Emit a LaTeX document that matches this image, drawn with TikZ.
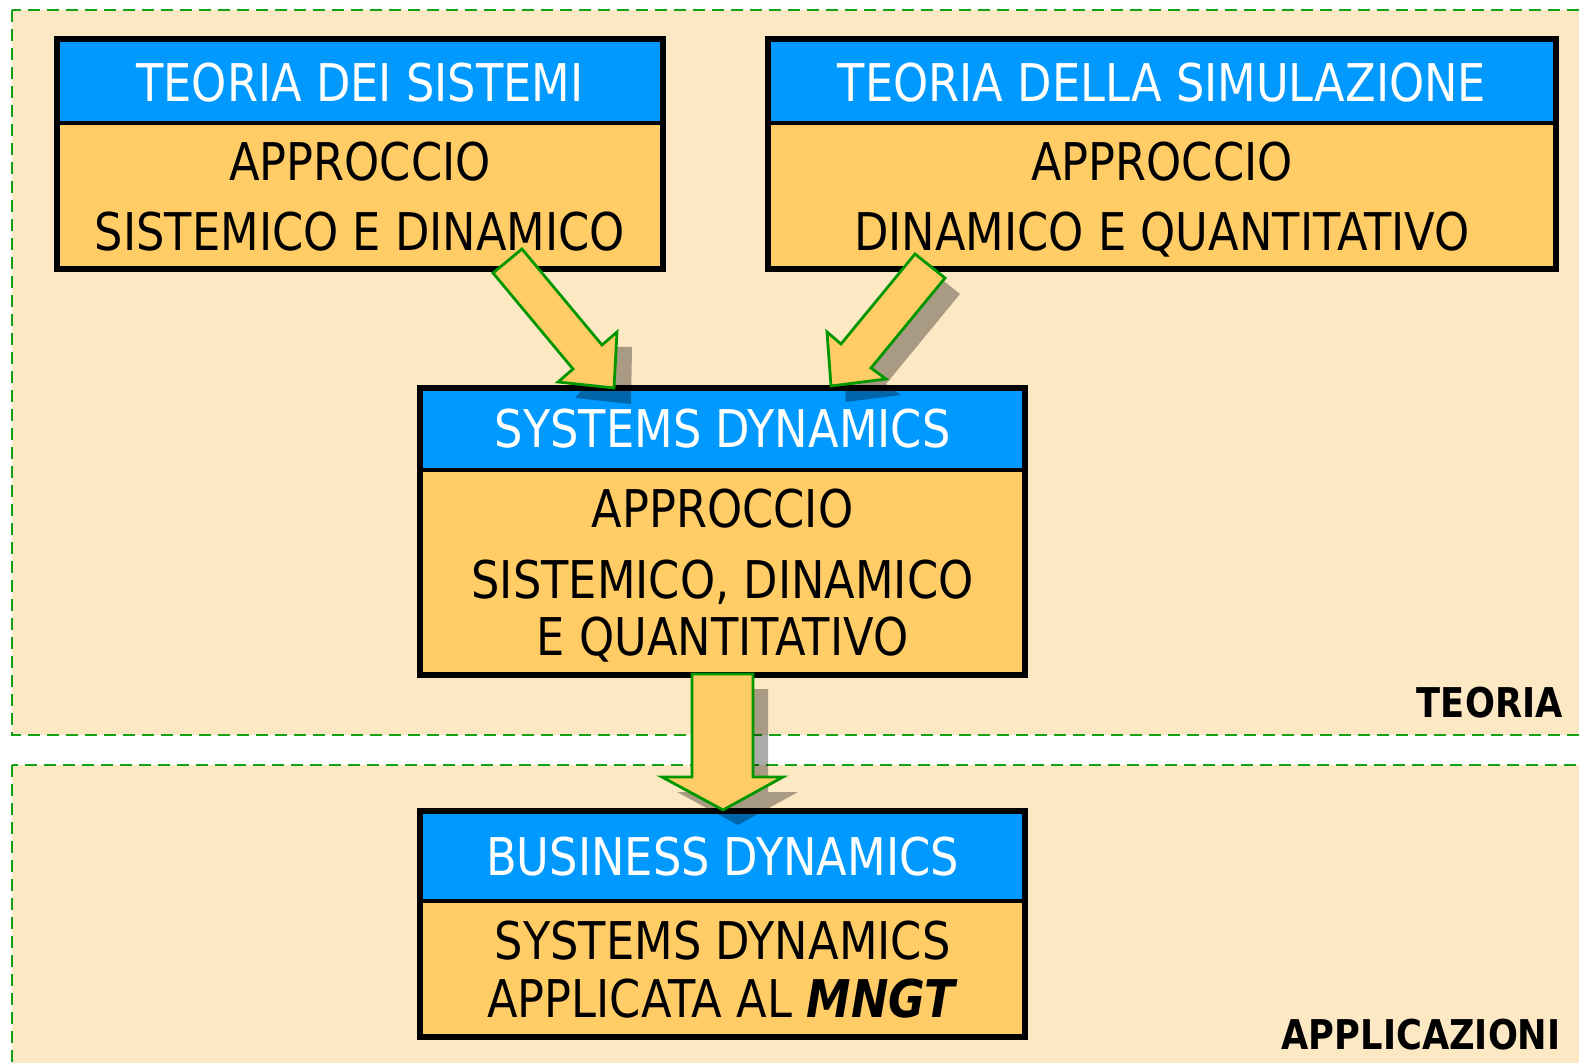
\documentclass[tikz,border=0pt]{standalone}
\usepackage{fontspec}
\setmainfont{DejaVu Sans}[FakeStretch=0.86]
\usetikzlibrary{positioning}
\definecolor{bgfill}{RGB}{253,232,196}
\definecolor{boxbody}{RGB}{255,204,102}
\definecolor{boxhead}{RGB}{0,153,255}
\definecolor{dashgreen}{RGB}{20,160,20}
\definecolor{arrowgreen}{RGB}{0,150,0}
\tikzset{
  region/.style={draw=dashgreen, line width=1pt, dash pattern=on 6pt off 3.5pt, fill=bgfill},
  boxframe/.style={draw=black, line width=3pt},
  headtxt/.style={text=white, anchor=base, font=\fontsize{26}{30}\selectfont, inner sep=0pt},
  bodytxt/.style={text=black, anchor=base, font=\fontsize{26}{30}\selectfont, inner sep=0pt},
  lbltxt/.style={text=black, anchor=base east, font=\fontsize{20.5}{24}\selectfont\bfseries, inner sep=0pt},
  blockarrow/.style={fill=boxbody, draw=arrowgreen, line width=1.4pt, line join=miter},
  arrowshadow/.style={fill=black, opacity=0.33, draw=none},
}
\begin{document}
\begin{tikzpicture}[x=0.5pt,y=-0.5pt]
\useasboundingbox (0,0) rectangle (1579,1063);
\begin{scope}
\clip (0,0) rectangle (1579,1063);
\path[region] (12,10) rectangle (1600,735);
\path[region] (12,765) rectangle (1600,1080);
\end{scope}

% Box 1
\fill[boxbody] (57,39) rectangle (663,269);
\fill[boxhead] (57,39) rectangle (663,123);
\draw[line width=1.6pt] (57,123) -- (663,123);
\draw[boxframe] (57,39) rectangle (663,269);
\node[headtxt] (t1) at (360,101.5) {TEORIA DEI SISTEMI};
\node[bodytxt] (t1a) at (360,181) {APPROCCIO};
\node[bodytxt] (t1b) at (360,251) {SISTEMICO E DINAMICO};

% Box 2
\fill[boxbody] (768,39) rectangle (1556,269);
\fill[boxhead] (768,39) rectangle (1556,123);
\draw[line width=1.6pt] (768,123) -- (1556,123);
\draw[boxframe] (768,39) rectangle (1556,269);
\node[headtxt] (t2) at (1162,101.5) {TEORIA DELLA SIMULAZIONE};
\node[bodytxt] (t2a) at (1162,181) {APPROCCIO};
\node[bodytxt] (t2b) at (1162,251) {DINAMICO E QUANTITATIVO};

% Box 3
\fill[boxbody] (420,388) rectangle (1025,675);
\fill[boxhead] (420,388) rectangle (1025,470);
\draw[line width=1.6pt] (420,470) -- (1025,470);
\draw[boxframe] (420,388) rectangle (1025,675);
\node[headtxt] (t3) at (722.5,448) {SYSTEMS DYNAMICS};
\node[bodytxt] (t3a) at (722.5,528) {APPROCCIO};
\node[bodytxt] (t3b) at (722.5,598) {SISTEMICO, DINAMICO};
\node[bodytxt] (t3c) at (722.5,655) {E QUANTITATIVO};

% Box 4
\fill[boxbody] (420,811) rectangle (1025,1037);
\fill[boxhead] (420,811) rectangle (1025,901);
\draw[line width=1.6pt] (420,901) -- (1025,901);
\draw[boxframe] (420,811) rectangle (1025,1037);
\node[headtxt] (t4) at (722.5,875) {BUSINESS DYNAMICS};
\node[bodytxt] (t4a) at (722.5,959) {SYSTEMS DYNAMICS};
\node[bodytxt] (t4b) at (722.5,1017) {APPLICATA AL \textbf{\itshape MNGT}};

% labels
\node[lbltxt] (lt) at (1563,717) {TEORIA};
\node[lbltxt] (la) at (1561,1049) {APPLICAZIONI};

% arrow 1 (left, down-right)
\fill[arrowshadow] (617,347) -- (632,347) -- (631,404) -- (575,398) -- cycle;
\path[blockarrow] (522,249) -- (602,345) -- (617,332) -- (614,388) -- (558,382) -- (573,369) -- (493,273) -- cycle;

% arrow 2 (right, down-left)
\fill[arrowshadow, shift={(15,16)}] (915,254) -- (945,278) -- (871,368) -- (886,379) -- (831,386) -- (827,332) -- (841,344) -- cycle;
\path[blockarrow] (915,254) -- (945,278) -- (871,368) -- (886,379) -- (831,386) -- (827,332) -- (841,344) -- cycle;

% arrow 3 (down)
\fill[arrowshadow, shift={(15,15)}] (692,674) -- (753,674) -- (753,777) -- (783,777) -- (723,810) -- (662,777) -- (692,777) -- cycle;
\path[blockarrow] (692,674) -- (753,674) -- (753,777) -- (783,777) -- (723,810) -- (662,777) -- (692,777) -- cycle;
\end{tikzpicture}
\end{document}
